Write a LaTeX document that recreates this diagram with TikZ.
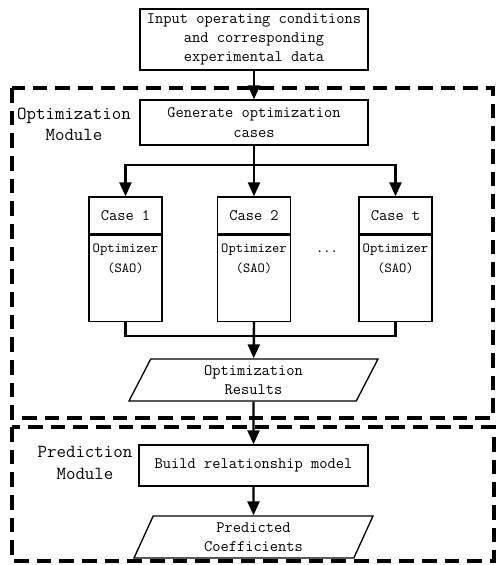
\documentclass[tikz,border=0pt]{standalone}
\usetikzlibrary{arrows.meta,shapes.geometric,positioning}
\tikzset{
  box/.style={draw,line width=1pt,align=center,inner sep=2pt,
    font=\ttfamily\fontsize{12}{14.5}\selectfont},
  casehead/.style={box,minimum width=54.75pt,minimum height=27.75pt},
  casebody/.style={draw,line width=1pt,minimum width=54.75pt,minimum height=64.5pt,inner sep=0pt},
  optext/.style={align=center,inner sep=0pt,font=\ttfamily\fontsize{10.4}{15}\selectfont},
  datashape/.style={box,trapezium,trapezium stretches body=true,minimum height=31.5pt},
  modlabel/.style={align=center,inner sep=0pt,font=\ttfamily\fontsize{13.8}{16}\selectfont},
  module/.style={line width=2.6pt,dash pattern=on 11pt off 6pt},
  conn/.style={line width=1.8pt},
  arr/.style={conn,-{Triangle[length=10.5pt,width=9pt]}}
}
\begin{document}
\begin{tikzpicture}[x=0.75pt,y=-0.75pt]
  \useasboundingbox (0,0) rectangle (496,565);
  % module frames
  \draw[module] (12,88) rectangle (493,418);
  \draw[module] (12,427) rectangle (494,561);
  \node[modlabel] (optlab) at (74,124) {Optimization\\Module};
  \node[modlabel] (predlab) at (85,463) {Prediction\\Module};
  % input and case generation
  \node[box,minimum width=171pt,minimum height=45.75pt] (input) at (254,39.5)
    {Input operating conditions\\and corresponding\\experimental data};
  \node[box,minimum width=171pt,minimum height=33.75pt] (gen) at (254,122.5)
    {Generate optimization\\cases};
  % cases
  \node[casehead] (c1) at (125.5,215.5) {Case 1};
  \node[casehead] (c2) at (254,215.5) {Case 2};
  \node[casehead] (c3) at (395.5,215.5) {Case t};
  \node[casebody,below=0pt of c1] (b1) {};
  \node[casebody,below=0pt of c2] (b2) {};
  \node[casebody,below=0pt of c3] (b3) {};
  \node[optext] (o1) at (125.5,259) {Optimizer\\(SAO)};
  \node[optext] (o2) at (254,259) {Optimizer\\(SAO)};
  \node[optext] (o3) at (395.5,259) {Optimizer\\(SAO)};
  \node[optext] (dots) at (327,252) {...};
  % results and prediction
  \node[datashape,trapezium left angle=58,trapezium right angle=122,minimum width=186.75pt]
    (res) at (253.5,380) {Optimization\\Results};
  \node[box,minimum width=171.75pt,minimum height=30.75pt] (build) at (253.5,465.5)
    {Build relationship model};
  \node[datashape,trapezium left angle=61,trapezium right angle=119,minimum width=179.25pt]
    (coef) at (253.5,537) {Predicted\\Coefficients};
  % connectors
  \coordinate (split) at (254,165);
  \coordinate (join) at (254,336);
  \draw[arr] (input) -- (gen);
  \draw[conn] (gen) -- (split);
  \draw[arr] (split) -| (c1);
  \draw[arr] (split) -- (c2);
  \draw[arr] (split) -| (c3);
  \draw[conn] (b1.south) |- (join);
  \draw[conn] (b3.south) |- (join);
  \draw[arr] (b2.south) -- (res);
  \draw[arr] (res) -- (build);
  \draw[arr] (build) -- (coef);
\end{tikzpicture}
\end{document}
